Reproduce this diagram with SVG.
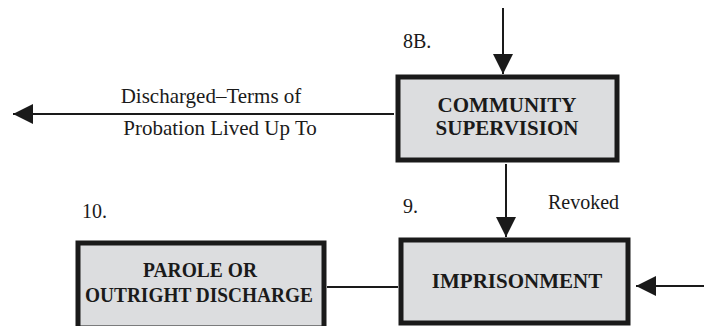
<svg xmlns="http://www.w3.org/2000/svg" width="704" height="326" viewBox="0 0 704 326" font-family="Liberation Serif">
<style>
.box{fill:#dcdddf;stroke:#1a1a1a;stroke-width:5}
.ln{stroke:#1a1a1a;stroke-width:2;fill:none}
</style>
<defs>
<marker id="ah" viewBox="0 0 20 20" refX="20" refY="10" markerWidth="20" markerHeight="20" markerUnits="userSpaceOnUse" orient="auto">
<path d="M0,0 L20,10 L0,20 Z" fill="#1a1a1a"/>
</marker>
</defs>
<g id="connectors">
<line class="ln" x1="503" y1="8" x2="503" y2="74" marker-end="url(#ah)"/>
<line class="ln" x1="394" y1="114" x2="13" y2="114" marker-end="url(#ah)"/>
<line class="ln" x1="506" y1="164" x2="506" y2="237" marker-end="url(#ah)"/>
<line class="ln" x1="704" y1="286" x2="636" y2="286" marker-end="url(#ah)"/>
<line class="ln" x1="327" y1="287" x2="398" y2="287"/>
<g font-family="Liberation Serif" font-size="21" fill="#1a1a1a">
<text x="211" y="103" text-anchor="middle">Discharged–Terms of</text>
<text x="220" y="135" text-anchor="middle">Probation Lived Up To</text>
<text x="548" y="209" font-size="20">Revoked</text>
</g>
</g>
<g id="community" font-family="Liberation Serif" fill="#1a1a1a">
<rect class="box" x="398" y="77" width="219" height="83"/>
<text x="403" y="48" font-size="20">8B.</text>
<text x="507" y="112" font-size="21" font-weight="bold" text-anchor="middle">COMMUNITY</text>
<text x="507" y="135" font-size="21" font-weight="bold" text-anchor="middle">SUPERVISION</text>
</g>
<g id="imprisonment" font-family="Liberation Serif" fill="#1a1a1a">
<rect class="box" x="401" y="240" width="227" height="83"/>
<text x="403" y="213" font-size="20">9.</text>
<text x="517" y="288" font-size="21" font-weight="bold" text-anchor="middle">IMPRISONMENT</text>
</g>
<g id="parole" font-family="Liberation Serif" fill="#1a1a1a">
<rect class="box" x="78" y="243" width="246" height="85"/>
<text x="82" y="218" font-size="20">10.</text>
<text x="200" y="277" font-size="21" font-weight="bold" text-anchor="middle" textLength="114" lengthAdjust="spacingAndGlyphs">PAROLE OR</text>
<text x="199" y="302" font-size="21" font-weight="bold" text-anchor="middle" textLength="228" lengthAdjust="spacingAndGlyphs">OUTRIGHT DISCHARGE</text>
</g>
</svg>
